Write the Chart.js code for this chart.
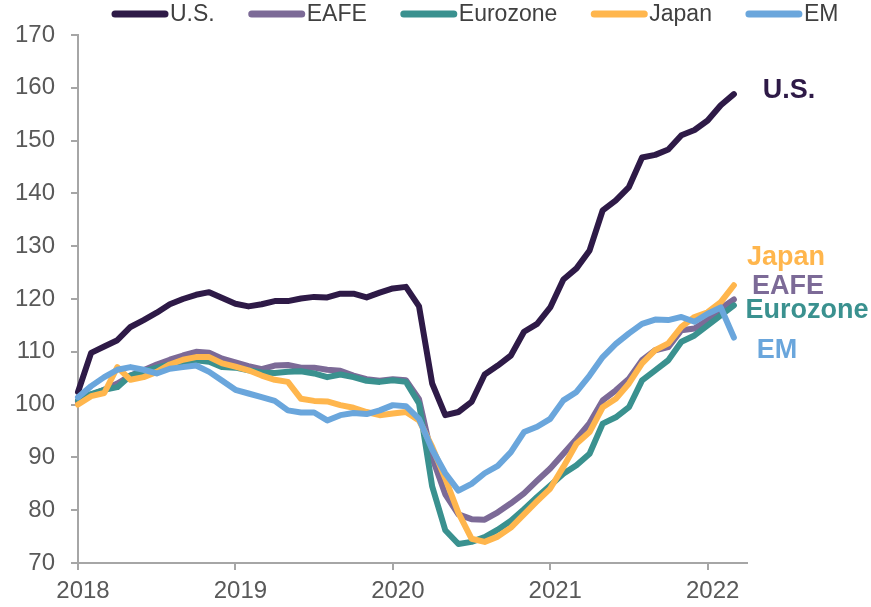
<!DOCTYPE html>
<html>
<head>
<meta charset="utf-8">
<script src="https://cdn.jsdelivr.net/npm/chart.js@4.4.1/dist/chart.umd.min.js"></script>
<style>
  html, body { margin: 0; padding: 0; background: #fff; }
</style>
</head>
<body>
<canvas id="myChart" width="871" height="607"></canvas>
<script>
// Monthly index levels, Dec 2017 through Feb 2022 (51 points)
var seriesNames = ["U.S.", "EAFE", "Eurozone", "Japan", "EM"];
var yearLabels = ["2018", "2019", "2020", "2021", "2022"];
var yearTickMonths = [0, 12, 24, 36, 48];

var usValues = [
  102.4, 109.8, 111.0, 112.2, 114.7, 116.0, 117.4, 119.0, 120.0, 120.8, 121.3, 120.2,
  119.1, 118.6, 119.0, 119.6, 119.6, 120.1, 120.4, 120.3, 121.0, 121.0, 120.3, 121.2,
  122.0, 122.3, 118.6, 104.0, 98.0, 98.6, 100.5, 105.7, 107.4, 109.3, 113.8, 115.3,
  118.4, 123.7, 125.8, 129.2, 136.8, 138.7, 141.2, 146.8, 147.3, 148.3, 151.0, 152.0,
  153.8, 156.7, 158.8
];
var eafeValues = [
  100.5, 101.8, 102.8, 104.0, 105.5, 106.5, 107.6, 108.5, 109.3, 110.0, 109.8, 108.7,
  108.0, 107.3, 106.7, 107.4, 107.5, 107.0, 107.0, 106.6, 106.4, 105.5, 104.8, 104.5,
  104.8, 104.6, 101.0, 90.0, 83.0, 79.2, 78.3, 78.2, 79.6, 81.3, 83.2, 85.6,
  87.9, 90.7, 93.5, 96.5, 100.8, 102.7, 104.9, 108.4, 110.3, 110.9, 114.1, 114.4,
  116.0, 118.2, 119.9
];
var eurozoneValues = [
  100.8, 102.0, 102.8, 103.3, 105.5, 106.3, 107.0, 107.6, 108.1, 108.4, 108.1, 107.1,
  107.0, 106.5, 106.1, 106.0, 106.2, 106.3, 105.9, 105.2, 105.7, 105.2, 104.5, 104.3,
  104.6, 104.3, 100.2, 84.5, 76.2, 73.6, 74.0, 74.9, 76.3, 78.0, 80.2, 82.5,
  84.7, 86.9, 88.5, 90.7, 96.4, 97.6, 99.5, 104.6, 106.5, 108.4, 111.9, 113.1,
  115.0, 116.9, 118.8
];
var japanValues = [
  100.0, 101.6, 102.2, 107.1, 104.7, 105.2, 106.2, 107.6, 108.5, 109.0, 109.0, 107.8,
  107.2, 106.5, 105.5, 104.7, 104.3, 101.1, 100.7, 100.6, 99.9, 99.4, 98.6, 98.0,
  98.3, 98.6, 97.0, 92.0, 86.0, 79.5, 74.6, 74.0, 75.0, 76.7, 79.2, 81.7,
  84.1, 88.2, 92.6, 94.8, 99.5, 101.1, 104.0, 107.8, 110.3, 111.6, 114.7, 116.6,
  117.5, 119.4, 122.6
];
var emValues = [
  101.4, 103.5, 105.2, 106.6, 107.1, 106.6, 105.9, 106.8, 107.1, 107.4, 106.2, 104.5,
  102.8, 102.1, 101.4, 100.7, 98.9, 98.5, 98.5, 97.0, 98.0, 98.4, 98.2, 98.9,
  99.9, 99.7, 97.3, 91.5, 87.0, 83.7, 85.0, 87.0, 88.4, 91.0, 94.8, 95.8,
  97.3, 100.8, 102.4, 105.5, 109.0, 111.5, 113.5, 115.3, 116.1, 116.0, 116.6, 115.7,
  117.2, 118.4, 112.7
];

var seriesColors = ["#2e1a47", "#7c6a97", "#3a918f", "#ffb64d", "#6aa6dc"];

function toPoints(values) {
  return values.map(function (v, i) { return { x: i, y: v }; });
}

var allValues = [usValues, eafeValues, eurozoneValues, japanValues, emValues];

var datasets = allValues.map(function (vals, i) {
  return {
    label: seriesNames[i],
    data: toPoints(vals),
    borderColor: seriesColors[i],
    backgroundColor: seriesColors[i],
    borderWidth: 6,
    pointRadius: 0,
    tension: 0,
    borderJoinStyle: "round",
    borderCapStyle: "round",
    clip: false,
    order: 5 - i // EM drawn on top, like the original
  };
});

var font = "'Liberation Sans', Arial, sans-serif";

// legend across the top and the bold labels at the right end of the lines
var labelPlugin = {
  id: "sideLabels",
  afterDraw: function (chart) {
    var ctx = chart.ctx;
    var area = chart.chartArea;
    var yScale = chart.scales.y;
    ctx.save();

    ctx.font = "23px " + font;
    ctx.textBaseline = "middle";
    ctx.textAlign = "left";
    var lx = 112;
    chart.data.datasets.forEach(function (ds) {
      ctx.strokeStyle = ds.borderColor;
      ctx.lineWidth = 7;
      ctx.lineCap = "round";
      ctx.beginPath();
      ctx.moveTo(lx + 3, 14);
      ctx.lineTo(lx + 53, 14);
      ctx.stroke();
      ctx.fillStyle = "#404040";
      ctx.fillText(ds.label, lx + 58, 15);
      lx += 58 + ctx.measureText(ds.label).width + 34;
    });

    var endLabels = [
      { idx: 0, dx: 42, at: 159.4 },
      { idx: 3, dx: 39, at: 127.8 },
      { idx: 1, dx: 41, at: 122.3 },
      { idx: 2, dx: 60, at: 117.9 },
      { idx: 4, dx: 30, at: 110.3 }
    ];
    ctx.font = "bold 27px " + font;
    ctx.textAlign = "center";
    endLabels.forEach(function (l) {
      ctx.fillStyle = seriesColors[l.idx];
      ctx.fillText(seriesNames[l.idx], area.right + l.dx, yScale.getPixelForValue(l.at));
    });
    ctx.restore();
  }
};

var ctx = document.getElementById("myChart").getContext("2d");
var myChart = new Chart(ctx, {
  type: "line",
  data: { datasets: datasets },
  options: {
    responsive: false,
    animation: false,
    layout: { padding: { top: 35, right: 124, left: 0, bottom: 0 } },
    plugins: {
      legend: { display: false },
      tooltip: { enabled: false }
    },
    scales: {
      x: {
        type: "linear",
        min: 0,
        max: 51,
        afterBuildTicks: function (scale) {
          scale.ticks = yearTickMonths.map(function (m) { return { value: m }; });
        },
        afterFit: function (scale) { scale.height = 44; },
        ticks: {
          autoSkip: false,
          maxRotation: 0,
          padding: 7,
          labelOffset: 5,
          color: "#595959",
          font: { family: font, size: 24 },
          callback: function (value) {
            return yearLabels[yearTickMonths.indexOf(value)];
          }
        },
        border: { color: "#a6a6a6", width: 2 },
        grid: { drawOnChartArea: false, tickLength: 7, color: "#a6a6a6", lineWidth: 2 }
      },
      y: {
        min: 70,
        max: 170,
        afterFit: function (scale) { scale.width = 78; },
        ticks: {
          stepSize: 10,
          padding: 16,
          color: "#595959",
          font: { family: font, size: 24 }
        },
        border: { color: "#a6a6a6", width: 2 },
        grid: { drawOnChartArea: false, tickLength: 7, color: "#a6a6a6", lineWidth: 2 }
      }
    }
  },
  plugins: [labelPlugin]
});
</script>
</body>
</html>
